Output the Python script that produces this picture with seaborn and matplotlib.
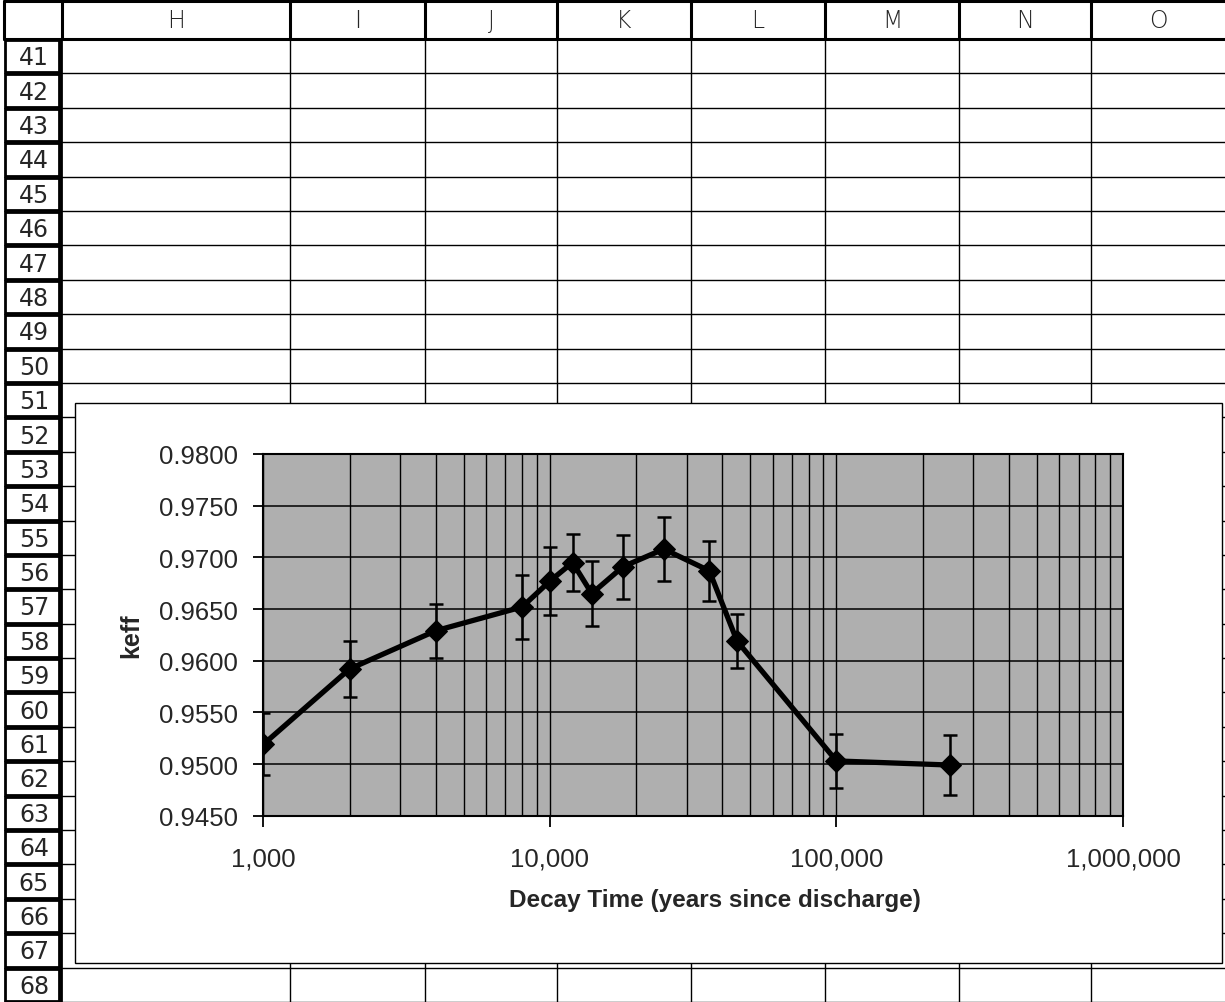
import matplotlib
matplotlib.use("Agg")
import matplotlib.pyplot as plt
from matplotlib.patches import Rectangle
from matplotlib.ticker import FuncFormatter, LogLocator, NullFormatter, MultipleLocator
import pandas as pd
import seaborn as sns

# ------------------------------------------------------------
# data
# ------------------------------------------------------------
years = [1000, 2000, 4000, 8000, 10000, 12000, 14000, 18000, 25000, 36000, 45000, 100000, 250000]
keff = [0.9519, 0.9592, 0.9629, 0.9652, 0.9677, 0.9695, 0.9665, 0.9691, 0.9708, 0.9687, 0.9619, 0.9503, 0.9499]
keff_err = [0.0030, 0.0027, 0.0026, 0.0031, 0.0033, 0.0028, 0.0031, 0.0031, 0.0031, 0.0029, 0.0026, 0.0026, 0.0029]

col_labels = ['H', 'I', 'J', 'K', 'L', 'M', 'N', 'O']
row_labels = [str(r) for r in range(41, 69)]

df = pd.DataFrame({'years': years, 'keff': keff, 'err': keff_err})

sns.set_style("ticks")
plt.rcParams['font.family'] = ['Liberation Sans', 'DejaVu Sans']

W, H = 1225, 1003
fig = plt.figure(figsize=(W / 100, H / 100), dpi=100)

# ------------------------------------------------------------
# spreadsheet background (pixel coordinates)
# ------------------------------------------------------------
bg = fig.add_axes([0, 0, 1, 1])
bg.set_xlim(0, W)
bg.set_ylim(H, 0)
bg.axis('off')

col_edges = [62, 290, 425, 557, 691, 825, 959, 1091, 1225]
head_top, head_bot = 2, 40
row_h = (H - head_bot) / len(row_labels)
row_edges = [head_bot + row_h * k for k in range(len(row_labels) + 1)]

# thin cell lines
for y in row_edges[1:]:
    bg.plot([col_edges[0], W], [y, y], color='black', lw=1.0, zorder=1)
for x in col_edges[1:-1]:
    bg.plot([x, x], [head_bot, H], color='black', lw=1.0, zorder=1)

# column header row
bg.plot([4, W], [head_top, head_top], color='black', lw=2.2, zorder=2)
bg.plot([4, W], [head_bot, head_bot], color='black', lw=2.2, zorder=2)
for x in [4] + col_edges[:-1]:
    bg.plot([x, x], [head_top, head_bot], color='black', lw=2.2, zorder=2)
for i, lab in enumerate(col_labels):
    cx = (col_edges[i] + col_edges[i + 1]) / 2
    bg.text(cx, 21, lab, ha='center', va='center', fontsize=17,
            family='DejaVu Sans', fontweight='light', zorder=3)

# row header boxes
for i, lab in enumerate(row_labels):
    y0 = row_edges[i]
    bg.add_patch(Rectangle((5, y0 + 1), 54, row_h - 2, fill=False,
                           edgecolor='black', lw=2.0, zorder=2))
    bg.text(34, y0 + row_h / 2 + 1, lab, ha='center', va='center', fontsize=17,
            family='DejaVu Sans', zorder=3)
bg.plot([61, 61], [head_bot, H], color='black', lw=2.0, zorder=2)

# embedded chart area
bg.add_patch(Rectangle((75, 404), 1147, 560, facecolor='white',
                       edgecolor='black', lw=1.0, zorder=5))

# ------------------------------------------------------------
# chart
# ------------------------------------------------------------
px_left, px_right, px_top, px_bot = 263.3, 1123.0, 455.0, 816.7
ax = fig.add_axes([px_left / W, 1 - px_bot / H,
                   (px_right - px_left) / W, (px_bot - px_top) / H])
ax.set_facecolor('#afafaf')
ax.set_xscale('log')

ax.errorbar(df['years'], df['keff'], yerr=df['err'], fmt='none', ecolor='black',
            elinewidth=1.8, capsize=5, capthick=1.8, zorder=3)
sns.lineplot(data=df, x='years', y='keff', ax=ax, color='black', lw=3.8,
             marker='D', markersize=11.5, markeredgecolor='black', sort=False,
             zorder=4)

ax.set_xlim(1000, 1000000)
ax.set_ylim(0.9450, 0.9800)
ax.yaxis.set_major_locator(MultipleLocator(0.005))
ax.yaxis.set_major_formatter(FuncFormatter(lambda v, p: f"{v:.4f}"))
ax.xaxis.set_major_locator(LogLocator(base=10))
ax.xaxis.set_minor_locator(LogLocator(base=10, subs=range(2, 10)))
ax.xaxis.set_major_formatter(FuncFormatter(lambda v, p: f"{v:,.0f}"))
ax.xaxis.set_minor_formatter(NullFormatter())

ax.grid(True, which='major', axis='y', color='black', lw=1.1)
ax.grid(True, which='both', axis='x', color='black', lw=1.0)
ax.set_axisbelow(True)

ax.tick_params(axis='y', which='major', direction='out', length=7, width=1.3,
               pad=11, labelsize=18.5, color='black')
ax.tick_params(axis='x', which='major', direction='out', length=8, width=1.3,
               pad=14, labelsize=18.5, color='black')
ax.tick_params(axis='x', which='minor', length=0)
for s in ax.spines.values():
    s.set_visible(True)
    s.set_color('black')
    s.set_linewidth(1.5)

ax.set_xlabel('Decay Time (years since discharge)', fontsize=17.5, fontweight='bold')
ax.xaxis.set_label_coords((714.5 - px_left) / (px_right - px_left), -0.200)
ax.set_ylabel('keff', fontsize=18, fontweight='bold')
ax.yaxis.set_label_coords(-0.140, 0.5)

plt.savefig('out.png', dpi=100)
